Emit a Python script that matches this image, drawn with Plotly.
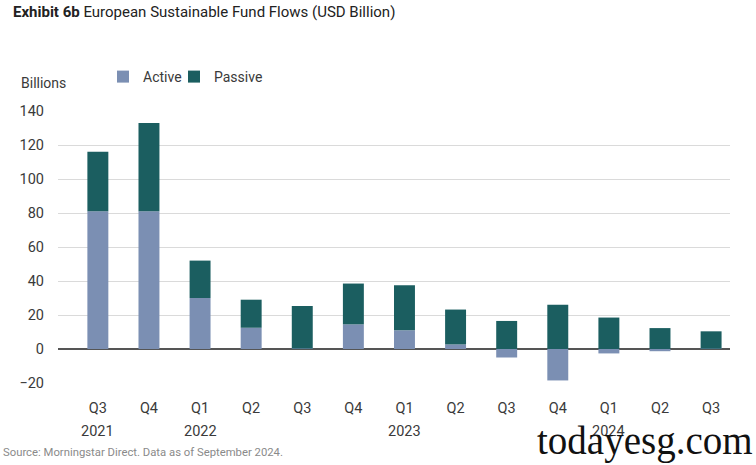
import plotly.graph_objects as go

quarters = ["Q3 2021", "Q4 2021", "Q1 2022", "Q2 2022", "Q3 2022", "Q4 2022",
            "Q1 2023", "Q2 2023", "Q3 2023", "Q4 2023", "Q1 2024", "Q2 2024", "Q3 2024"]
quarter_labels = ["Q3", "Q4", "Q1", "Q2", "Q3", "Q4", "Q1", "Q2", "Q3", "Q4", "Q1", "Q2", "Q3"]
year_labels = {"Q3 2021": "2021", "Q1 2022": "2022", "Q1 2023": "2023", "Q1 2024": "2024"}
active = [81, 81, 30, 12.5, 0.3, 14.5, 11, 2.7, -5, -18.5, -2.6, -1.3, 0.2]
passive = [35, 52, 22, 16.5, 25, 24, 26.5, 20.5, 16.5, 26, 18.5, 12.3, 10.2]
y_ticks = [-20, 0, 20, 40, 60, 80, 100, 120, 140]

FONT = "Roboto, sans-serif"
ACTIVE_C = "#7b8fb3"
PASSIVE_C = "#1b5e60"
TXT = "#3a3a3a"

W, H = 756, 465
L, R, T, B = 58, 26, 111, 82
PW, PH = W - L - R, H - T - B

def px(x):
    return (x - L) / PW

def py(y):
    return (H - B - y) / PH

fig = go.Figure()
fig.add_trace(go.Bar(x=quarters, y=active, name="Active", marker_color=ACTIVE_C,
                     marker_line_width=0, legend="legend"))
fig.add_trace(go.Bar(x=quarters, y=passive, name="Passive", marker_color=PASSIVE_C,
                     marker_line_width=0, legend="legend2"))

leg = dict(orientation="h", xref="container", y=(H - 61) / H, yref="container",
           yanchor="top", xanchor="left", font=dict(size=14, color=TXT),
           itemwidth=30, bgcolor="rgba(0,0,0,0)")

fig.update_layout(
    width=W, height=H,
    barmode="relative", bargap=0.59,
    plot_bgcolor="white", paper_bgcolor="white",
    margin=dict(l=L, r=R, t=T, b=B, autoexpand=False),
    font=dict(family=FONT, size=14, color=TXT),
    showlegend=True,
    legend=dict(leg, x=103 / W),
    legend2=dict(leg, x=174 / W),
    xaxis=dict(tickmode="array", tickvals=quarters, ticktext=quarter_labels,
               range=[-0.78, 12.37], showgrid=False, showline=False, ticks="",
               tickfont=dict(size=14.5, color=TXT), ticklabelstandoff=14),
    yaxis=dict(range=[-20, 140], tickvals=y_ticks, showgrid=True,
               gridcolor="#dadada", gridwidth=1,
               zeroline=True, zerolinecolor="#555555", zerolinewidth=1.5,
               ticks="", tickfont=dict(size=14.5, color=TXT), ticklabelstandoff=13),
)

for q, yr in year_labels.items():
    fig.add_annotation(text=yr, x=q, xref="x", y=py(431), yref="paper",
                       xanchor="center", yanchor="middle", showarrow=False,
                       font=dict(size=14.5, color=TXT, family=FONT))

fig.add_annotation(text="<b>Exhibit 6b</b> European Sustainable Fund Flows (USD Billion)",
                   xref="paper", yref="paper", x=px(11), y=py(12),
                   xanchor="left", yanchor="middle", showarrow=False,
                   font=dict(size=15, color="#222222", family=FONT))
fig.add_annotation(text="Billions", xref="paper", yref="paper",
                   x=px(19), y=py(83), xanchor="left", yanchor="middle",
                   showarrow=False, font=dict(size=14, color=TXT, family=FONT))
fig.add_annotation(text="Source: Morningstar Direct. Data as of September 2024.",
                   xref="paper", yref="paper", x=px(1), y=py(452),
                   xanchor="left", yanchor="middle", showarrow=False,
                   font=dict(size=11.3, color="#8a8a8a", family=FONT))
fig.add_annotation(text="todayesg.com", xref="paper", yref="paper",
                   x=px(755), y=py(441), xanchor="right", yanchor="middle",
                   showarrow=False,
                   font=dict(size=39, color="#111111", family="Liberation Serif, DejaVu Serif, serif"))

fig.write_html("out.html", config={"displayModeBar": False},
               post_script="document.body.style.margin='0';")
